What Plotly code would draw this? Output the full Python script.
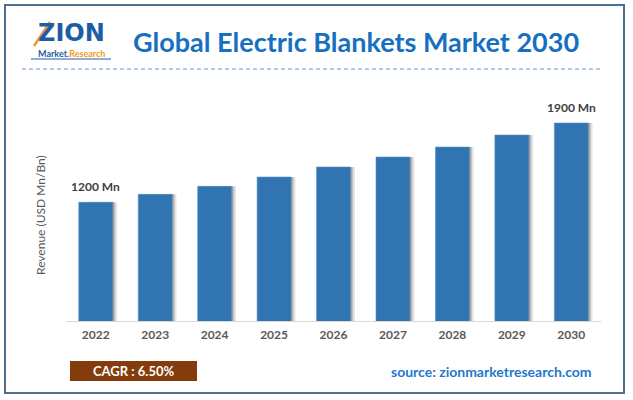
import plotly.graph_objects as go

# ---- data ----
years = ["2022", "2023", "2024", "2025", "2026", "2027", "2028", "2029", "2030"]
revenue = [1200, 1270, 1341, 1423, 1512, 1600, 1688, 1794, 1900]
labelled_years = ["2022", "2030"]
title_text = "Global Electric Blankets Market 2030"
y_title = "Revenue (USD Mn/Bn)"
cagr_text = "CAGR : 6.50%"
source_text = "source: zionmarketresearch.com"

W, H = 633, 400
FONT = "Lato"
BAR = "#3174b2"


def px(x):
    return x / W


def py(y):
    return 1 - y / H


def note(x, y, text, size, color, family=FONT, xanchor="center", **kw):
    fig.add_annotation(xref="paper", yref="paper", x=px(x), y=py(y), text=text,
                       showarrow=False, xanchor=xanchor, yanchor="middle",
                       font=dict(family=family, size=size, color=color), **kw)


fig = go.Figure()

# soft shadow on the right of each bar
for shift, col in [(0.075, "rgba(0,0,0,0.10)"), (0.045, "rgba(0,0,0,0.16)"), (0.02, "rgba(0,0,0,0.22)")]:
    fig.add_trace(go.Bar(
        x=years, y=revenue, width=0.57, offset=-0.285 + shift,
        marker=dict(color=col, line=dict(width=0)),
        hoverinfo="skip", showlegend=False,
    ))

fig.add_trace(go.Bar(
    x=years, y=revenue, width=0.57, offset=-0.285,
    marker=dict(color=BAR, line=dict(width=0.6, color="#5b93c8")),
    showlegend=False,
))

# value labels
for i, (yr, v) in enumerate(zip(years, revenue)):
    if yr in labelled_years:
        fig.add_annotation(x=i, y=v, xref="x", yref="y", text=f"<b>{v} Mn</b>",
                           showarrow=False, xanchor="center", yanchor="bottom", yshift=6,
                           font=dict(family=FONT, size=12, color="#404040"))

fig.update_layout(
    width=W, height=H,
    margin=dict(l=0, r=0, t=0, b=0),
    paper_bgcolor="white", plot_bgcolor="white",
    barmode="overlay",
    font=dict(family=FONT),
    xaxis=dict(
        domain=[px(66), px(601)], type="category", range=[-0.5, 8.5],
        showgrid=False, showline=True, linecolor="#d9d9d9", linewidth=1,
        ticks="outside", ticklen=3, tickcolor="rgba(0,0,0,0)",
        tickfont=dict(family=FONT, size=12, color="#595959", weight="bold"),
        fixedrange=True,
    ),
    yaxis=dict(
        domain=[py(321), py(100)], range=[152, 2103],
        showgrid=False, showline=False, showticklabels=False, zeroline=False,
        fixedrange=True,
    ),
)

# frame
fig.add_shape(type="rect", xref="paper", yref="paper",
              x0=px(5), x1=px(624), y0=py(393), y1=py(5),
              line=dict(color="#4e6e8e", width=2), fillcolor="rgba(0,0,0,0)")
# dashed separator
fig.add_shape(type="line", xref="paper", yref="paper",
              x0=px(22), x1=px(601), y0=py(69), y1=py(69),
              line=dict(color="#5e94d4", width=1.2, dash="4px,3px"))

# title
note(356, 42, f"<b>{title_text}</b>", 27, "#1670c0")

# logo
note(71, 33, "<b>ZION</b>", 24, "#1d5da6", family="DejaVu Sans")
fig.add_shape(type="line", xref="paper", yref="paper", layer="above",
              x0=px(34), y0=py(46), x1=px(50), y1=py(22),
              line=dict(color="#f39a1e", width=2.5))
note(71, 53, "<b><span style='color:#1d5da6'>Market.</span><span style='color:#f39a1e'>Research</span></b>",
     9, "#1d5da6")
fig.add_shape(type="line", xref="paper", yref="paper",
              x0=px(31), y0=py(59), x1=px(111), y1=py(59),
              line=dict(color="#1d5da6", width=1))

# y axis title
note(40, 215, y_title, 12, "#595959", textangle=-90)

# CAGR box
fig.add_shape(type="rect", xref="paper", yref="paper",
              x0=px(70), x1=px(197), y0=py(381), y1=py(361),
              line=dict(width=0), fillcolor="#843c0c")
note(133.5, 371, f"<b>{cagr_text}</b>", 13, "white")

# source
note(594, 371, f"<b>{source_text}</b>", 14, "#1f77d0", xanchor="right")

fig.write_html("out.html", config={"displayModeBar": False},
               post_script="document.body.style.margin='0px';")
